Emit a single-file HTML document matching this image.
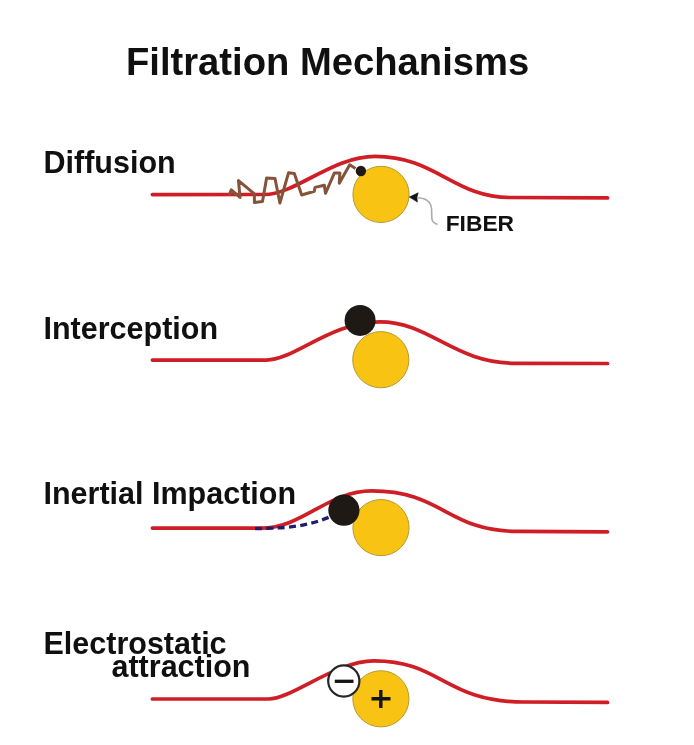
<!DOCTYPE html>
<html><head><meta charset="utf-8">
<style>
html,body{margin:0;padding:0;background:#fff;}
body{width:694px;height:745px;overflow:hidden;}
svg{display:block;will-change:transform;}
text{font-family:"Liberation Sans",sans-serif;font-weight:bold;fill:#101010;}
</style></head><body>
<svg width="694" height="745" viewBox="0 0 694 745">
<!-- Title -->
<text x="126" y="74.5" font-size="38.2">Filtration Mechanisms</text>

<!-- Panel 1: Diffusion -->
<text x="43.5" y="172.7" font-size="30.5">Diffusion</text>
<path d="M152.4 194.6 L264.6 194.5 C295.6 194.5 332.1 156.3 375.2 156.3 C435.7 156.3 454.1 197.5 509.6 197.5 L607.5 197.9" fill="none" stroke="#d01e26" stroke-width="3.7" stroke-linecap="round"/>
<path d="M229.3 195.1 L231.3 189.9 L240 197.4 L238.5 180.6 L254.4 193.9 L254.4 202.5 L262.5 201.6 L266.6 177.9 L275 178.5 L279.9 203 L288.5 172.8 L294.3 173.6 L301.7 195 L314.3 191.3 L315 187.4 L324.3 185.2 L325.5 193.3 L334.4 172.9 L339.9 172.9 L339.3 183.2 L349.7 164.8 L355.5 168.4" fill="none" stroke="#85523a" stroke-width="3" stroke-linejoin="round"/>
<circle cx="381" cy="194.4" r="28.1" fill="#f8c312" stroke="#b39a35" stroke-width="1"/>
<circle cx="360.9" cy="171" r="5.2" fill="#1e1915"/>
<path d="M417.5 197.7 C425 197.9 430.8 201.5 431.6 209 L431.8 218.3 C432 221 434.5 223.6 437.6 224.4" fill="none" stroke="#ababab" stroke-width="1.6"/>
<path d="M409.3 197 L418.2 192.8 L416.9 197.4 L417.4 202.1 Z" fill="#141414" stroke="#141414" stroke-width="0.6" stroke-linejoin="round"/>
<text x="445.7" y="231.2" font-size="22.8">FIBER</text>

<!-- Panel 2: Interception -->
<text x="43.5" y="338.5" font-size="30.5">Interception</text>
<path d="M152.4 360.1 L266.2 360.1 C294.3 360.1 330.1 321.9 379.8 321.9 C430.3 321.9 453.4 363.3 516.0 363.3 L607.5 363.5" fill="none" stroke="#d01e26" stroke-width="3.7" stroke-linecap="round"/>
<circle cx="380.8" cy="359.7" r="28.1" fill="#f8c312" stroke="#b39a35" stroke-width="1"/>
<circle cx="360.1" cy="320.4" r="15.5" fill="#1e1915"/>

<!-- Panel 3: Inertial Impaction -->
<text x="43.5" y="503.9" font-size="30.5">Inertial Impaction</text>
<path d="M152.4 528.1 L261.5 528.1 C302.8 528.1 327.7 490.9 371.7 490.9 C442.5 490.9 447.6 531.4 517.3 531.4 L607.5 531.8" fill="none" stroke="#d01e26" stroke-width="3.7" stroke-linecap="round"/>
<path d="M254.4 528.7 C274.7 528.1 303.7 528.8 331 516.3" fill="none" stroke="#1f1c6e" stroke-width="3.3" stroke-dasharray="7 4.3" stroke-dashoffset="-0.8"/>
<circle cx="381" cy="527.6" r="28.1" fill="#f8c312" stroke="#b39a35" stroke-width="1"/>
<circle cx="343.9" cy="510.2" r="15.6" fill="#1e1915"/>

<!-- Panel 4: Electrostatic attraction -->
<text x="43.5" y="653.9" font-size="30.5">Electrostatic</text>
<text x="111.5" y="677.4" font-size="30.5">attraction</text>
<path d="M152.4 699.0 L268.3 699.0 C292.2 699.0 335.4 660.8 374.0 660.8 C441.3 660.8 444.6 702.0 524.0 702.0 L607.5 702.4" fill="none" stroke="#d01e26" stroke-width="3.7" stroke-linecap="round"/>
<circle cx="380.9" cy="698.8" r="28.1" fill="#f8c312" stroke="#b39a35" stroke-width="1"/>
<path d="M371.5 698.8 H390.5 M380.8 689.9 V707.9" stroke="#141414" stroke-width="3.4"/>
<circle cx="343.8" cy="681" r="15.6" fill="#fff" stroke="#262626" stroke-width="2.2"/>
<path d="M334.8 681.3 H353.5" stroke="#141414" stroke-width="3.3"/>
</svg>
</body></html>
